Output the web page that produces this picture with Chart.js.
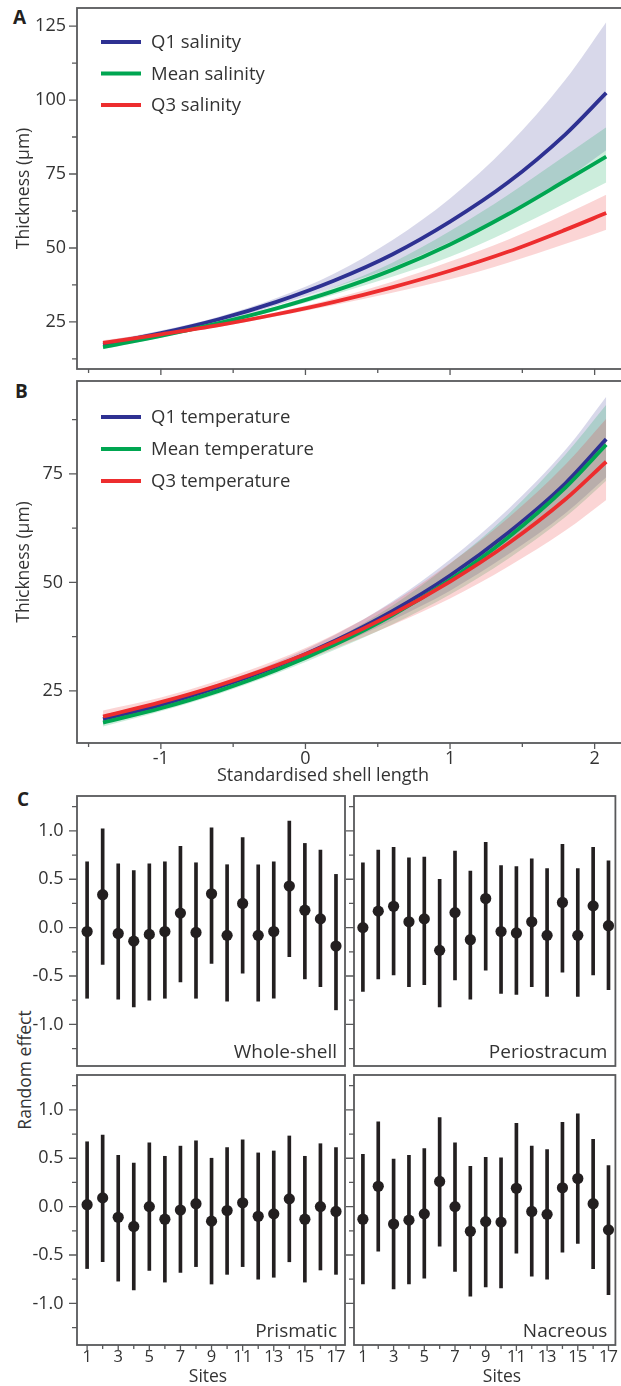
<!DOCTYPE html>
<html>
<head>
<meta charset="utf-8">
<script src="https://cdn.jsdelivr.net/npm/chart.js@4"></script>
<style>
  html, body { margin: 0; padding: 0; background: #fff; overflow: hidden; }
  body { width: 621px; height: 1386px; position: relative; font-family: 'Open Sans', sans-serif; color: #333; }
  .box { position: absolute; left: 0; }
  .tag { position: absolute; font-weight: bold; font-size: 19px; color: #231f20; }
  .ytitle { position: absolute; font-size: 17.5px; white-space: nowrap; transform: translate(-50%, -50%) rotate(-90deg); }
</style>
</head>
<body>
<div class="tag" style="left:13px;top:4px">A</div>
<div class="tag" style="left:15px;top:378px">B</div>
<div class="tag" style="left:17px;top:786px">C</div>
<div class="ytitle" style="left:24px;top:1070px">Random effect</div>

<div class="box" style="top:0;width:625px;height:380px"><canvas id="chartA"></canvas></div>
<div class="box" style="top:373px;width:625px;height:415px"><canvas id="chartB"></canvas></div>
<div class="box" style="top:788px;width:621px;height:284px"><canvas id="chartWhole"></canvas></div>
<div class="box" style="top:788px;width:621px;height:284px"><canvas id="chartPerio"></canvas></div>
<div class="box" style="top:1067px;width:621px;height:319px"><canvas id="chartPrism"></canvas></div>
<div class="box" style="top:1067px;width:621px;height:319px"><canvas id="chartNacre"></canvas></div>

<script>
// ---- curve panels (A, B) ----
const curveX = [-1.4, -1.0, -0.6, -0.2, 0.2, 0.6, 1.0, 1.4, 1.8, 2.08];

// A: salinity
const salQ1     = [17.3, 21.2, 25.9, 31.8, 39.0, 47.8, 58.9, 72.1, 88.5, 102.4];
const salQ1Lo   = [16.3, 20.4, 25.0, 30.6, 36.7, 43.5, 52.0, 61.4, 73.2, 83.0];
const salQ1Hi   = [18.4, 22.1, 26.8, 33.1, 41.4, 52.6, 66.7, 84.6, 107.0, 126.3];
const salMean   = [16.5, 20.3, 24.6, 29.6, 35.5, 42.6, 51.2, 61.4, 72.8, 80.9];
const salMeanLo = [15.8, 19.7, 24.0, 28.9, 34.3, 40.3, 47.0, 55.6, 65.2, 72.1];
const salMeanHi = [17.3, 20.9, 25.2, 30.3, 36.8, 45.0, 55.7, 67.9, 81.3, 90.8];
const salQ3     = [17.9, 20.8, 23.9, 27.6, 31.8, 36.7, 42.3, 48.7, 56.2, 61.8];
const salQ3Lo   = [17.0, 20.2, 23.3, 26.9, 30.7, 34.9, 39.4, 45.0, 51.4, 56.2];
const salQ3Hi   = [18.8, 21.4, 24.5, 28.3, 32.9, 38.6, 45.4, 52.8, 61.5, 68.0];

// B: temperature
const tmpQ1     = [18.5, 21.8, 25.9, 30.7, 36.5, 43.4, 51.6, 61.4, 72.9, 83.0];
const tmpQ1Lo   = [17.5, 20.9, 25.1, 29.9, 35.2, 41.3, 48.1, 56.4, 66.0, 74.2];
const tmpQ1Hi   = [19.5, 22.7, 26.7, 31.6, 37.8, 45.6, 55.3, 66.8, 80.6, 92.8];
const tmpMean   = [17.7, 21.0, 25.0, 29.8, 35.6, 42.4, 50.6, 60.3, 71.9, 81.7];
const tmpMeanLo = [16.8, 20.3, 24.3, 29.0, 34.4, 40.3, 47.2, 55.4, 65.1, 73.4];
const tmpMeanHi = [18.6, 21.7, 25.8, 30.6, 36.9, 44.6, 54.3, 65.6, 79.5, 90.9];
const tmpQ3     = [19.1, 22.4, 26.3, 30.9, 36.3, 42.7, 50.2, 58.9, 69.2, 77.8];
const tmpQ3Lo   = [17.8, 21.3, 25.3, 29.7, 34.7, 40.2, 46.3, 53.6, 62.0, 69.0];
const tmpQ3Hi   = [20.5, 23.5, 27.4, 32.1, 38.0, 45.3, 54.4, 64.8, 77.2, 87.7];

const lengthMajor = [-1, 0, 1, 2];
const lengthMinor = [-1.5, -0.5, 0.5, 1.5];
const thickMajorA = [25, 50, 75, 100, 125];
const thickMinorA = [12.5, 37.5, 62.5, 87.5, 112.5];
const thickMajorB = [25, 50, 75];
const thickMinorB = [37.5, 62.5, 87.5];

// ---- random effects (C) ----
const sites = [1, 2, 3, 4, 5, 6, 7, 8, 9, 10, 11, 12, 13, 14, 15, 16, 17];
const siteLabels = [1, 3, 5, 7, 9, 11, 13, 15, 17];
const siteMinor = [2, 4, 6, 8, 10, 12, 14, 16];

const wholeMean = [-0.04, 0.34, -0.06, -0.14, -0.07, -0.04, 0.15, -0.05, 0.35, -0.08, 0.25, -0.08, -0.04, 0.43, 0.18, 0.09, -0.19];
const wholeLo   = [-0.73, -0.38, -0.74, -0.82, -0.75, -0.73, -0.56, -0.73, -0.37, -0.76, -0.47, -0.76, -0.73, -0.30, -0.53, -0.61, -0.85];
const wholeHi   = [0.68, 1.02, 0.66, 0.59, 0.66, 0.68, 0.84, 0.67, 1.03, 0.65, 0.93, 0.65, 0.68, 1.10, 0.87, 0.80, 0.55];

const perioMean = [0.00, 0.17, 0.22, 0.06, 0.09, -0.235, 0.155, -0.125, 0.30, -0.04, -0.055, 0.06, -0.08, 0.26, -0.08, 0.225, 0.02];
const perioLo   = [-0.66, -0.53, -0.49, -0.61, -0.59, -0.82, -0.54, -0.74, -0.44, -0.68, -0.69, -0.61, -0.71, -0.46, -0.71, -0.49, -0.64];
const perioHi   = [0.67, 0.80, 0.83, 0.72, 0.73, 0.50, 0.79, 0.585, 0.88, 0.64, 0.63, 0.71, 0.61, 0.86, 0.61, 0.83, 0.69];

const prismMean = [0.02, 0.09, -0.11, -0.205, 0.0, -0.13, -0.035, 0.03, -0.15, -0.04, 0.04, -0.10, -0.075, 0.08, -0.13, 0.0, -0.05];
const prismLo   = [-0.64, -0.57, -0.77, -0.86, -0.66, -0.78, -0.68, -0.62, -0.80, -0.70, -0.62, -0.75, -0.73, -0.57, -0.78, -0.655, -0.70];
const prismHi   = [0.67, 0.74, 0.53, 0.45, 0.66, 0.52, 0.625, 0.68, 0.50, 0.61, 0.69, 0.555, 0.575, 0.73, 0.52, 0.65, 0.61];

const nacreMean = [-0.13, 0.21, -0.18, -0.14, -0.075, 0.26, 0.0, -0.255, -0.155, -0.16, 0.19, -0.05, -0.08, 0.195, 0.29, 0.03, -0.24];
const nacreLo   = [-0.80, -0.46, -0.85, -0.80, -0.74, -0.41, -0.67, -0.925, -0.83, -0.84, -0.48, -0.72, -0.75, -0.47, -0.38, -0.64, -0.91];
const nacreHi   = [0.54, 0.875, 0.49, 0.53, 0.60, 0.92, 0.66, 0.415, 0.51, 0.505, 0.86, 0.625, 0.59, 0.87, 0.96, 0.695, 0.425];

const effectMajor = [-1, -0.5, 0, 0.5, 1];
const effectMinor = [-1.25, -0.75, -0.25, 0.25, 0.75, 1.25];

// ---- style ----
const FONT = "'Open Sans', sans-serif";
const TEXT = '#333333';
const AXIS = '#58595b';
const INK = '#231f20';
const BLUE = '#2e3192', GREEN = '#00a651', RED = '#ed2d2e';
const BLUE_BAND = 'rgba(46,49,146,0.19)';
const GREEN_BAND = 'rgba(0,166,81,0.2)';
const RED_BAND = 'rgba(237,45,46,0.2)';

Chart.defaults.font.family = FONT;
Chart.defaults.color = TEXT;

// box round the plot area, outward tick marks, corner label, x title
const frameTicks = {
    id: 'frameTicks',
    afterDraw(chart, args, o) {
        const { ctx, chartArea: a, scales: { x, y } } = chart;
        ctx.save();
        ctx.strokeStyle = AXIS;
        ctx.lineWidth = 1.3;
        ctx.beginPath();
        (o.yMajor || []).forEach(v => { const p = y.getPixelForValue(v); ctx.moveTo(a.left - 8, p); ctx.lineTo(a.left, p); });
        (o.yMinor || []).forEach(v => { const p = y.getPixelForValue(v); ctx.moveTo(a.left - 5, p); ctx.lineTo(a.left, p); });
        (o.xMajor || []).forEach(v => { const p = x.getPixelForValue(v); ctx.moveTo(p, a.bottom); ctx.lineTo(p, a.bottom + 6); });
        (o.xMinor || []).forEach(v => { const p = x.getPixelForValue(v); ctx.moveTo(p, a.bottom); ctx.lineTo(p, a.bottom + 4); });
        ctx.stroke();
        ctx.lineWidth = 1.8;
        ctx.strokeRect(a.left, a.top, a.right - a.left, a.bottom - a.top);

        ctx.fillStyle = TEXT;
        if (o.tag) {
            ctx.font = '19px ' + FONT;
            ctx.textAlign = 'right';
            ctx.textBaseline = 'alphabetic';
            ctx.fillText(o.tag, a.right - 8, a.bottom - 8);
        }
        if (o.xTitle) {
            ctx.font = o.xTitle.size + 'px ' + FONT;
            ctx.textAlign = 'center';
            ctx.textBaseline = 'alphabetic';
            ctx.fillText(o.xTitle.text, a.left + o.xTitle.dx, a.bottom + o.xTitle.dy);
        }
        ctx.restore();
    }
};

// line + label legend inside the plot
const curveLegend = {
    id: 'curveLegend',
    afterDraw(chart, args, o) {
        if (!o.order) return;
        const { ctx } = chart;
        ctx.save();
        ctx.font = '18.5px ' + FONT;
        ctx.textBaseline = 'middle';
        ctx.textAlign = 'left';
        o.order.forEach((idx, i) => {
            const ds = chart.data.datasets[idx];
            const yy = o.y + i * o.dy;
            ctx.strokeStyle = ds.borderColor;
            ctx.lineWidth = 4.2;
            ctx.beginPath();
            ctx.moveTo(o.x, yy);
            ctx.lineTo(o.x + 40, yy);
            ctx.stroke();
            ctx.fillStyle = TEXT;
            ctx.fillText(ds.label, o.x + 50, yy + 1);
        });
        ctx.restore();
    }
};

function curveDatasets(lines) {
    const pts = ys => curveX.map((x, i) => ({ x, y: ys[i] }));
    const ds = [];
    lines.forEach(l => ds.push({
        label: l.label, data: pts(l.mid), borderColor: l.color, borderWidth: 3.8,
        pointRadius: 0, cubicInterpolationMode: 'monotone', fill: false
    }));
    lines.forEach(l => {
        ds.push({ data: pts(l.hi), borderWidth: 0, borderColor: 'transparent', pointRadius: 0,
            cubicInterpolationMode: 'monotone', fill: '+1', backgroundColor: l.band });
        ds.push({ data: pts(l.lo), borderWidth: 0, borderColor: 'transparent', pointRadius: 0,
            cubicInterpolationMode: 'monotone', fill: false });
    });
    return ds;
}

function curveChart(id, lines, cfg) {
    return new Chart(document.getElementById(id), {
        type: 'line',
        data: { datasets: curveDatasets(lines) },
        options: {
            responsive: true,
            maintainAspectRatio: false,
            animation: false,
            events: [],
            layout: { padding: { top: 8, left: 0, right: 0, bottom: 0 } },
            plugins: {
                legend: { display: false },
                tooltip: { enabled: false },
                filler: { drawTime: 'beforeDatasetsDraw' },
                curveLegend: cfg.legend,
                frameTicks: {
                    yMajor: cfg.yMajor, yMinor: cfg.yMinor,
                    xMajor: lengthMajor, xMinor: lengthMinor,
                    xTitle: cfg.xTitle
                }
            },
            scales: {
                x: {
                    type: 'linear', min: -1.58, max: 2.21,
                    grid: { display: false, drawTicks: false }, border: { display: false },
                    ticks: { display: cfg.xLabels, padding: 5, font: { size: 18 }, color: TEXT },
                    afterBuildTicks: s => { s.ticks = lengthMajor.map(v => ({ value: v })); },
                    afterFit: s => { s.height = cfg.xHeight; s.paddingLeft = 0; s.paddingRight = 0; }
                },
                y: {
                    min: cfg.yMin, max: cfg.yMax,
                    grid: { display: false, drawTicks: false }, border: { display: false },
                    ticks: { padding: cfg.yPad, font: { size: 18 }, color: TEXT, callback: v => String(v) },
                    title: { display: true, text: 'Thickness (µm)', font: { size: 17.5 }, color: TEXT, padding: { top: 13.5 } },
                    afterBuildTicks: s => { s.ticks = cfg.yMajor.map(v => ({ value: v })); },
                    afterFit: s => { s.width = 77; s.paddingTop = 0; s.paddingBottom = 0; }
                }
            }
        },
        plugins: [frameTicks, curveLegend]
    });
}

curveChart('chartA', [
    { label: 'Q3 salinity',   color: RED,   band: RED_BAND,   mid: salQ3,   lo: salQ3Lo,   hi: salQ3Hi },
    { label: 'Mean salinity', color: GREEN, band: GREEN_BAND, mid: salMean, lo: salMeanLo, hi: salMeanHi },
    { label: 'Q1 salinity',   color: BLUE,  band: BLUE_BAND,  mid: salQ1,   lo: salQ1Lo,   hi: salQ1Hi }
], {
    yMin: 9.1, yMax: 131.1, yMajor: thickMajorA, yMinor: thickMinorA, yPad: 11,
    xLabels: false, xHeight: 11,
    legend: { order: [2, 1, 0], x: 101, y: 42, dy: 31.5 }
});

curveChart('chartB', [
    { label: 'Q3 temperature',   color: RED,   band: RED_BAND,   mid: tmpQ3,   lo: tmpQ3Lo,   hi: tmpQ3Hi },
    { label: 'Mean temperature', color: GREEN, band: GREEN_BAND, mid: tmpMean, lo: tmpMeanLo, hi: tmpMeanHi },
    { label: 'Q1 temperature',   color: BLUE,  band: BLUE_BAND,  mid: tmpQ1,   lo: tmpQ1Lo,   hi: tmpQ1Hi }
], {
    yMin: 13.0, yMax: 96.4, yMajor: thickMajorB, yMinor: thickMinorB, yPad: 14,
    xLabels: true, xHeight: 45,
    legend: { order: [2, 1, 0], x: 101, y: 44, dy: 32 },
    xTitle: { text: 'Standardised shell length', size: 18, dx: 246, dy: 38 }
});

function siteChart(id, mean, lo, hi, cfg) {
    return new Chart(document.getElementById(id), {
        type: 'scatter',
        data: {
            datasets: [
                {
                    data: sites.map((s, i) => ({ x: s, y: mean[i] })),
                    pointRadius: 5.6, pointBackgroundColor: INK, pointBorderWidth: 0
                },
                {
                    type: 'bar',
                    data: sites.map((s, i) => ({ x: s, y: [lo[i], hi[i]] })),
                    backgroundColor: INK, barThickness: 3
                }
            ]
        },
        options: {
            responsive: true,
            maintainAspectRatio: false,
            animation: false,
            events: [],
            layout: { padding: { top: 8, left: cfg.padLeft, right: cfg.padRight, bottom: 0 } },
            plugins: {
                legend: { display: false },
                tooltip: { enabled: false },
                frameTicks: {
                    yMajor: effectMajor, yMinor: effectMinor,
                    xMajor: cfg.bottomRow ? siteLabels : [],
                    xMinor: cfg.bottomRow ? siteMinor : [],
                    tag: cfg.tag,
                    xTitle: cfg.bottomRow ? { text: 'Sites', size: 17.5, dx: cfg.titleDx, dy: 36.5 } : null
                }
            },
            scales: {
                x: {
                    type: 'linear', min: cfg.xMin, max: cfg.xMax, offset: false,
                    grid: { display: false, drawTicks: false }, border: { display: false },
                    ticks: { display: cfg.bottomRow, padding: 2, font: { size: 16.5 }, color: TEXT },
                    afterBuildTicks: s => { s.ticks = siteLabels.map(v => ({ value: v })); },
                    afterFit: s => { s.height = cfg.bottomRow ? 41 : 6; s.paddingLeft = 0; s.paddingRight = 0; }
                },
                y: {
                    min: -1.43, max: 1.36,
                    grid: { display: false, drawTicks: false }, border: { display: false },
                    ticks: { display: cfg.yLabels, padding: 13.5, font: { size: 18 }, color: TEXT, callback: v => v.toFixed(1) },
                    afterBuildTicks: s => { s.ticks = effectMajor.map(v => ({ value: v })); },
                    afterFit: s => { s.width = cfg.yWidth; s.paddingTop = 0; s.paddingBottom = 0; }
                }
            }
        },
        plugins: [frameTicks]
    });
}

const leftCol = { padLeft: 0, padRight: 276, yWidth: 77, yLabels: true, xMin: 0.35, xMax: 17.58, titleDx: 131 };
const rightCol = { padLeft: 346, padRight: 1, yWidth: 8, yLabels: false, xMin: 0.42, xMax: 17.45, titleDx: 148 };

siteChart('chartWhole', wholeMean, wholeLo, wholeHi, { ...leftCol, tag: 'Whole-shell', bottomRow: false });
siteChart('chartPerio', perioMean, perioLo, perioHi, { ...rightCol, tag: 'Periostracum', bottomRow: false });
siteChart('chartPrism', prismMean, prismLo, prismHi, { ...leftCol, tag: 'Prismatic', bottomRow: true });
siteChart('chartNacre', nacreMean, nacreLo, nacreHi, { ...rightCol, tag: 'Nacreous', bottomRow: true });
</script>
</body>
</html>
